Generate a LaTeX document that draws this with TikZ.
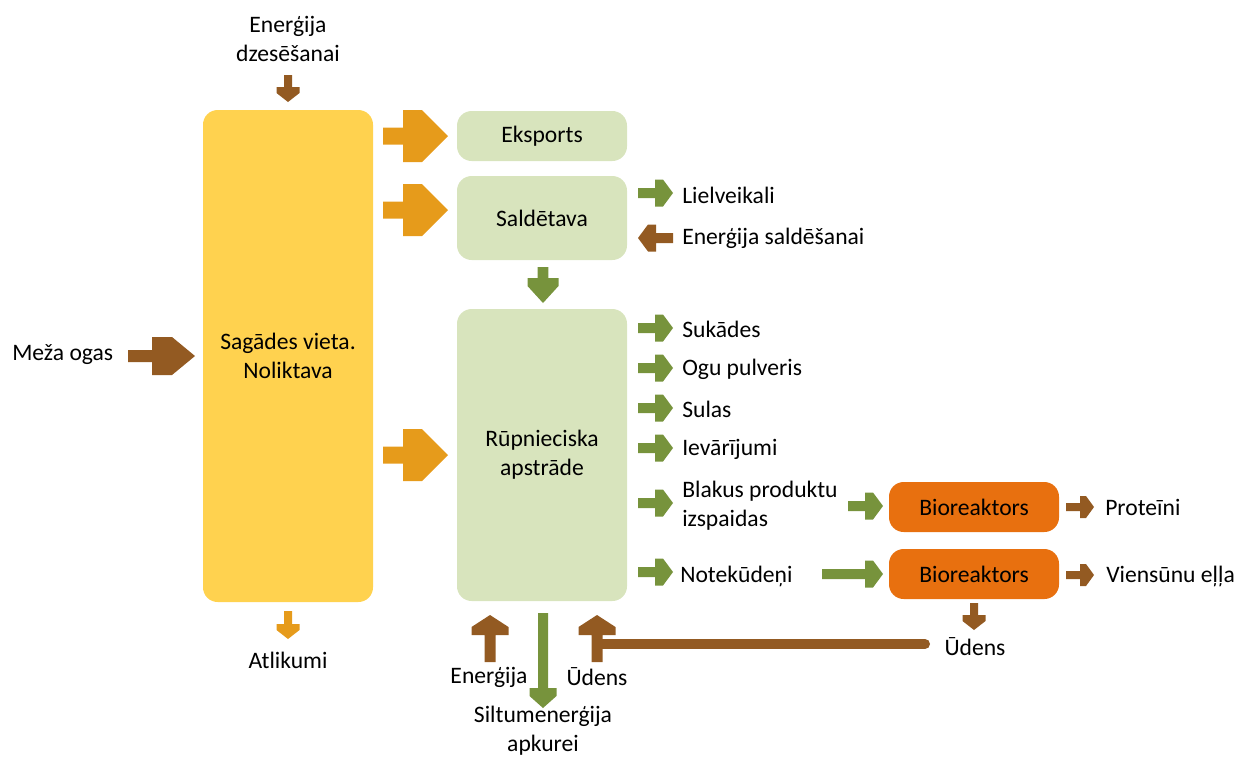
\documentclass[tikz,border=0pt]{standalone}
\usepackage{fontspec}
\setmainfont{Carlito}
\definecolor{ybox}{HTML}{FFD24F}
\definecolor{gbox}{HTML}{D8E4BD}
\definecolor{obox}{HTML}{E8700F}
\definecolor{oarr}{HTML}{E69B1B}
\definecolor{garr}{HTML}{77933C}
\definecolor{barr}{HTML}{935A22}
% color, x, y, angle, length, shaft half width, head half width, head length, flat
\newcommand\blkarrow[9]{%
  \fill[#1,shift={(#2,#3)},rotate=#4]
    (0,#6) -- ({#5-#8},#6) -- ({#5-#8},#7) -- ({#5-#8+#9},#7) -- (#5,0)
    -- ({#5-#8+#9},-#7) -- ({#5-#8},-#7) -- ({#5-#8},-#6) -- (0,-#6) -- cycle;}
\begin{document}
\begin{tikzpicture}[x=0.75pt,y=-0.75pt,
  every node/.style={font=\fontsize{17.7}{21.5}\selectfont, text=black},
  box/.style={rounded corners=11pt, inner sep=0pt, align=center, minimum width=127.5pt},
  lbl/.style={anchor=west, inner sep=0pt},
  ctr/.style={align=center, inner sep=0pt}]
\useasboundingbox (0,0) rectangle (1237,758);

% boxes
\node[box, fill=ybox, minimum height=369pt] (sag) at (288,356) {Sagādes vieta.\\Noliktava};
\node[box, fill=gbox, minimum height=37.5pt] (eks) at (542,136) {Eksports};
\node[box, fill=gbox, minimum height=63pt] (sal) at (542,218) {Saldētava};
\node[box, fill=gbox, minimum height=219pt] (rup) at (542,455) {Rūpnieciska\\apstrāde};
\node[box, fill=obox, minimum height=37.5pt] (bio1) at (974,507) {Bioreaktors};
\node[box, fill=obox, minimum height=37.5pt] (bio2) at (974,574) {Bioreaktors};

% labels
\node[ctr] (edz) at (288,39) {Enerģija\\dzesēšanai};
\node[lbl] (mez) at (12,355) {Meža ogas};
\node[ctr] (atl) at (288,660) {Atlikumi};
\node[lbl] (lie) at (682,195) {Lielveikali};
\node[lbl] (esa) at (682,238) {Enerģija saldēšanai};
\node[lbl] (suk) at (682,329) {Sukādes};
\node[lbl] (ogu) at (682,369) {Ogu pulveris};
\node[lbl] (sul) at (682,409) {Sulas};
\node[lbl] (iev) at (682,449) {Ievārījumi};
\node[lbl, align=left] (bla) at (682,506) {Blakus produktu\\izspaidas};
\node[lbl] (not) at (680,576) {Notekūdeņi};
\node[lbl] (pro) at (1105,507) {Proteīni};
\node[lbl] (vie) at (1106,576) {Viensūnu eļļa};
\node[ctr] (ude2) at (975,647) {Ūdens};
\node[ctr] (ene) at (489,677) {Enerģija};
\node[ctr] (ude1) at (597,677) {Ūdens};
\node[ctr] (sil) at (543,731) {Siltumenerģija\\apkurei};

% arrows
\blkarrow{barr}{288}{75}{-90}{27}{4}{11.5}{15}{6}
\blkarrow{barr}{128}{356}{0}{67}{6}{19}{43}{20}
\blkarrow{oarr}{383}{136}{0}{65}{8.5}{26}{45}{19}
\blkarrow{oarr}{383}{210}{0}{65}{8.5}{26}{45}{19}
\blkarrow{oarr}{383}{455}{0}{65}{8.5}{26}{45}{19}
\blkarrow{oarr}{288}{611}{-90}{28}{4}{11.5}{15}{6}
\blkarrow{garr}{638}{193}{0}{35}{5}{13.5}{18}{8}
\blkarrow{barr}{673}{238}{180}{35}{5}{13.5}{18}{8}
\blkarrow{garr}{543}{267}{-90}{36}{5.3}{15.5}{25}{8}
\blkarrow{garr}{638}{328}{0}{35}{5}{13.5}{18}{8}
\blkarrow{garr}{638}{368}{0}{35}{5}{13.5}{18}{8}
\blkarrow{garr}{638}{408}{0}{35}{5}{13.5}{18}{8}
\blkarrow{garr}{638}{448}{0}{35}{5}{13.5}{18}{8}
\blkarrow{garr}{638}{503}{0}{35}{5}{13.5}{18}{8}
\blkarrow{garr}{638}{572}{0}{35}{5}{13.5}{18}{8}
\blkarrow{garr}{848}{506}{0}{35}{5}{13.5}{18}{8}
\blkarrow{garr}{822}{574}{0}{61}{5}{13.5}{18}{8}
\blkarrow{barr}{1066}{507}{0}{28}{4}{11}{14}{6}
\blkarrow{barr}{1066}{575}{0}{28}{4}{11}{14}{6}
\blkarrow{barr}{974}{603}{-90}{27}{4}{11.5}{15}{6}
\blkarrow{barr}{490}{662}{90}{47}{5.5}{18.5}{20}{8}
\blkarrow{barr}{597}{662}{90}{47}{5.5}{18.5}{20}{8}
\blkarrow{garr}{543}{613}{-90}{95}{5}{13.5}{20}{8}

% return water line
\coordinate (wl) at (597,644);
\coordinate (wr) at (925,644);
\draw[barr, line width=7.5pt, line cap=round] (wr) -- (wl);
\end{tikzpicture}
\end{document}
